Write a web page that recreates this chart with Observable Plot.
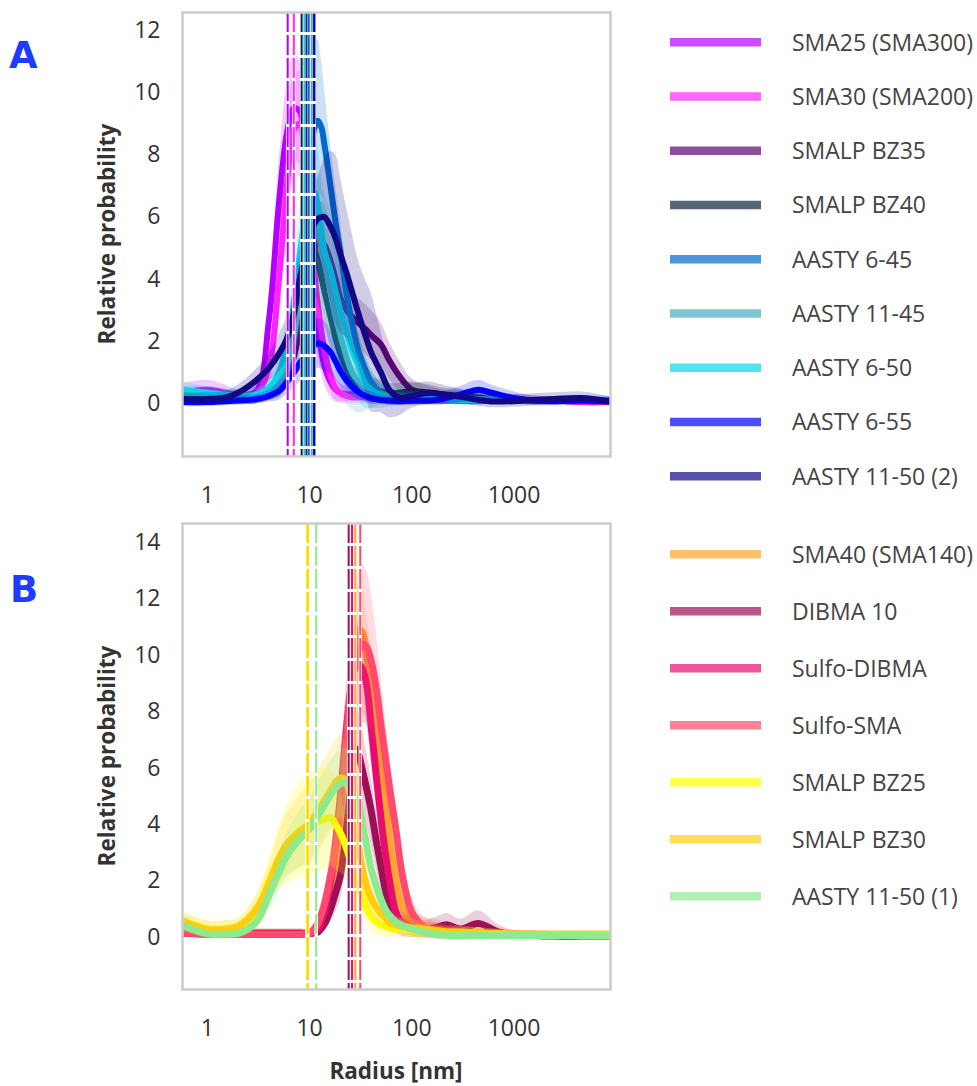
<!DOCTYPE html>
<html><head><meta charset="utf-8">
<script src="https://cdn.jsdelivr.net/npm/d3@7"></script>
<script src="https://cdn.jsdelivr.net/npm/@observablehq/plot@0.6"></script>
<style>
body{margin:0;background:#fff;font-family:"Open Sans",sans-serif;}
#fig{position:relative;width:977px;height:1086px;overflow:hidden;background:#fff;}
#fig > svg{position:absolute;}
</style></head><body><div id="fig"></div>
<script>
// ---------- Panel A data ----------
const gridA = [0.57,1,1.5,2,3,4,5,6,7,8,9,10,11,12,13,14,16,18,20,23,26,30,35,40,50,60,75,100,150,200,300,450,600,1000,1500,2500,4500,8700];
const namesA = ["SMA25 (SMA300)","SMA30 (SMA200)","SMALP BZ35","SMALP BZ40","AASTY 6-45","AASTY 11-45","AASTY 6-50","AASTY 6-55","AASTY 11-50 (2)"];
const colorsA = ["#b200ff","#ff24ff","#5e0372","#0e243d","#006ace","#4aabc2","#08d7ea","#0000ff","#130883"];
const peaksA = [6.1, 7.0, 9.3, 8.35, 9.8, 10.5, 8.9, 11.1, 11.1];
const sma25 = [0.35,0.45,0.35,0.25,0.4,2.7,6.4,8.7,9.5,9.4,7.6,5.2,3.5,2.4,1.7,1.2,0.7,0.45,0.35,0.3,0.3,0.3,0.28,0.25,0.2,0.15,0.15,0.1,0.1,0.1,0.1,0.1,0.1,0.1,0.1,0.1,0.05,0.05];
const sma25Sd = [0.3,0.3,0.25,0.2,0.3,0.8,1.3,1.6,1.7,1.7,1.5,1.2,1.0,0.8,0.7,0.6,0.5,0.4,0.3,0.25,0.2,0.2,0.2,0.2,0.15,0.15,0.15,0.1,0.1,0.1,0.1,0.1,0.1,0.1,0.1,0.1,0.1,0.1];
const sma30 = [0.3,0.3,0.25,0.2,0.3,1.2,4.0,7.0,8.8,9.0,7.8,6.0,4.4,3.2,2.35,1.7,0.9,0.5,0.33,0.25,0.2,0.2,0.2,0.15,0.15,0.1,0.1,0.1,0.1,0.1,0.1,0.1,0.1,0.1,0.1,0.1,0.05,0.05];
const sma30Sd = [0.25,0.25,0.2,0.2,0.3,0.7,1.3,1.6,1.7,1.7,1.6,1.4,1.2,1.0,0.9,0.7,0.5,0.4,0.3,0.25,0.2,0.2,0.2,0.15,0.15,0.15,0.15,0.15,0.1,0.1,0.1,0.1,0.1,0.1,0.1,0.1,0.1,0.1];
const bz35 = [0.2,0.2,0.2,0.2,0.2,0.3,0.5,0.9,1.5,2.4,3.4,4.3,4.9,5.2,5.2,5.1,4.6,4.0,3.4,3.0,2.8,2.6,2.4,2.2,1.9,1.4,0.9,0.45,0.3,0.25,0.2,0.15,0.15,0.15,0.1,0.1,0.1,0.1];
const bz35Sd = [0.2,0.2,0.2,0.2,0.2,0.2,0.3,0.4,0.6,0.8,1.0,1.2,1.3,1.3,1.3,1.3,1.2,1.1,1.0,0.9,0.9,0.8,0.8,0.8,0.7,0.6,0.5,0.35,0.25,0.2,0.2,0.2,0.15,0.15,0.15,0.1,0.1,0.1];
const bz40 = [0.2,0.2,0.2,0.2,0.2,0.3,0.6,1.2,2.2,3.5,4.6,5.1,5.0,4.6,4.1,3.6,2.8,2.1,1.6,1.1,0.8,0.6,0.5,0.45,0.4,0.35,0.35,0.4,0.35,0.3,0.25,0.2,0.15,0.15,0.1,0.1,0.1,0.1];
const bz40Sd = [0.2,0.2,0.2,0.2,0.2,0.2,0.3,0.5,0.8,1.1,1.3,1.4,1.4,1.3,1.2,1.1,0.9,0.8,0.7,0.6,0.5,0.45,0.4,0.4,0.35,0.3,0.3,0.3,0.25,0.2,0.2,0.15,0.15,0.1,0.1,0.1,0.1,0.1];
const a645 = [0.25,0.2,0.15,0.15,0.2,0.3,0.5,1.0,2.0,3.8,6.0,7.8,8.8,9.1,8.9,8.3,7.0,5.8,4.9,3.5,2.6,1.7,1.1,0.7,0.35,0.2,0.15,0.15,0.15,0.15,0.1,0.1,0.1,0.1,0.1,0.1,0.1,0.1];
const a645Sd = [0.2,0.2,0.15,0.15,0.2,0.2,0.3,0.5,0.9,1.4,1.9,2.4,2.8,2.6,2.2,1.8,1.4,1.2,1.0,0.8,0.7,0.6,0.5,0.4,0.3,0.2,0.2,0.15,0.15,0.15,0.1,0.1,0.1,0.1,0.1,0.1,0.1,0.1];
const a1145 = [0.3,0.25,0.2,0.2,0.2,0.3,0.6,1.2,2.2,3.5,4.6,5.3,5.6,5.5,5.1,4.6,3.6,2.8,2.2,1.5,1.0,0.7,0.45,0.35,0.3,0.25,0.2,0.2,0.2,0.15,0.15,0.15,0.15,0.1,0.1,0.1,0.1,0.1];
const a1145Sd = [0.2,0.2,0.2,0.2,0.2,0.2,0.3,0.5,0.8,1.1,1.4,1.6,1.8,1.9,1.9,1.9,1.9,1.8,1.7,1.5,1.2,1.0,0.7,0.5,0.35,0.3,0.25,0.2,0.2,0.15,0.15,0.15,0.1,0.1,0.1,0.1,0.1,0.1];
const a650 = [0.45,0.35,0.3,0.25,0.3,0.5,1.0,1.9,3.2,4.8,6.0,6.7,6.8,6.4,5.6,4.9,4.3,3.6,3.0,2.3,1.7,1.2,0.65,0.45,0.25,0.2,0.15,0.15,0.15,0.15,0.1,0.1,0.1,0.1,0.1,0.1,0.1,0.1];
const a650Sd = [0.25,0.2,0.2,0.2,0.2,0.3,0.5,0.8,1.1,1.4,1.6,1.8,1.9,1.9,1.9,1.9,1.9,1.9,1.8,1.6,1.4,1.1,0.8,0.6,0.4,0.3,0.2,0.2,0.15,0.15,0.15,0.15,0.1,0.1,0.1,0.1,0.1,0.1];
const a655 = [0.05,0.05,0.08,0.1,0.15,0.25,0.4,0.7,1.0,1.3,1.55,1.75,1.88,1.94,1.92,1.85,1.65,1.35,1.05,0.75,0.55,0.38,0.25,0.18,0.12,0.1,0.08,0.1,0.1,0.15,0.3,0.45,0.35,0.18,0.1,0.08,0.1,0.08];
const a655Sd = [0.15,0.15,0.15,0.15,0.15,0.2,0.3,0.4,0.5,0.6,0.7,0.8,0.8,0.8,0.8,0.8,0.7,0.6,0.5,0.4,0.3,0.25,0.2,0.2,0.15,0.15,0.15,0.15,0.15,0.2,0.25,0.3,0.25,0.2,0.15,0.15,0.15,0.15];
const a1150b = [0.15,0.15,0.2,0.35,0.75,1.15,1.6,2.1,2.9,4.0,4.8,5.4,5.75,5.95,6.0,6.0,5.7,5.3,4.8,4.2,3.6,2.9,2.2,1.65,1.0,0.45,0.2,0.25,0.35,0.3,0.22,0.12,0.07,0.08,0.12,0.15,0.18,0.07];
const a1150bSd = [0.2,0.2,0.2,0.25,0.35,0.45,0.6,0.7,0.8,0.9,1.0,1.1,1.2,1.3,1.6,1.9,2.4,2.7,2.5,2.1,1.9,1.7,1.8,1.9,1.3,0.9,0.6,0.4,0.35,0.3,0.25,0.2,0.2,0.2,0.2,0.2,0.2,0.15];
const valsA = [sma25, sma30, bz35, bz40, a645, a1145, a650, a655, a1150b];
const sdsA = [sma25Sd, sma30Sd, bz35Sd, bz40Sd, a645Sd, a1145Sd, a650Sd, a655Sd, a1150bSd];
const yTicksA = [0,2,4,6,8,10,12];

// ---------- Panel B data ----------
const gridB = [0.57,1,1.5,2,3,4,5,6,7,8,10,12,14,16,18,20,22,24,26,28,30,33,36,40,45,50,55,60,70,80,100,130,170,220,300,450,700,1000,1500,2500,4500,8700];
const namesB = ["SMA40 (SMA140)","DIBMA 10","Sulfo-DIBMA","Sulfo-SMA","SMALP BZ25","SMALP BZ30","AASTY 11-50 (1)"];
const colorsB = ["#ffa52a","#9e1055","#e70c6d","#ff4a6d","#ffff00","#ffce0c","#8eea8e"];
const peaksB = [28.0, 24.1, 26.0, 31.3, 9.4, 9.6, 11.6];
const sma40 = [0.2,0.15,0.15,0.15,0.15,0.15,0.15,0.15,0.15,0.15,0.15,0.3,0.8,1.6,2.8,4.3,6.0,7.8,9.3,10.4,10.9,10.8,10.0,9.1,7.6,6.1,4.8,3.6,2.0,1.1,0.5,0.35,0.3,0.2,0.15,0.15,0.12,0.1,0.1,0.08,0.08,0.08];
const sma40Sd = [0.15,0.15,0.15,0.15,0.15,0.15,0.15,0.15,0.15,0.15,0.15,0.2,0.4,0.6,0.8,1.0,1.2,1.3,1.4,1.5,1.5,1.5,1.4,1.3,1.2,1.1,1.0,0.9,0.7,0.5,0.4,0.4,0.35,0.3,0.25,0.2,0.2,0.15,0.15,0.15,0.15,0.15];
const dibma = [0.15,0.15,0.15,0.15,0.15,0.15,0.15,0.15,0.15,0.15,0.15,0.2,0.5,1.0,1.6,2.2,3.3,4.6,5.8,6.7,6.5,5.9,5.3,4.5,3.4,2.5,1.7,1.2,0.6,0.4,0.3,0.3,0.35,0.45,0.3,0.5,0.2,0.1,0.08,0.06,0.06,0.06];
const dibmaSd = [0.15,0.15,0.15,0.15,0.15,0.15,0.15,0.15,0.15,0.15,0.15,0.2,0.3,0.5,0.7,0.9,1.1,1.3,1.4,1.5,1.5,1.4,1.3,1.2,1.0,0.8,0.6,0.5,0.4,0.35,0.3,0.3,0.35,0.4,0.35,0.45,0.25,0.15,0.15,0.15,0.15,0.15];
const sdibma = [0.15,0.12,0.12,0.12,0.12,0.12,0.12,0.12,0.12,0.12,0.15,0.3,0.9,2.0,3.4,5.0,6.7,8.1,9.1,9.6,9.7,9.5,9.0,7.5,5.7,4.2,3.0,2.1,0.9,0.55,0.4,0.3,0.25,0.2,0.15,0.12,0.1,0.1,0.08,0.06,0.06,0.06];
const sdibmaSd = [0.15,0.15,0.15,0.15,0.15,0.15,0.15,0.15,0.15,0.15,0.15,0.2,0.4,0.6,0.9,1.1,1.3,1.4,1.5,1.5,1.5,1.5,1.4,1.3,1.1,0.9,0.7,0.6,0.4,0.35,0.3,0.25,0.25,0.2,0.2,0.15,0.15,0.15,0.15,0.15,0.15,0.15];
const ssma = [0.15,0.12,0.12,0.12,0.12,0.12,0.12,0.12,0.12,0.12,0.15,0.5,1.2,2.2,3.2,4.5,6.3,7.9,9.0,9.7,10.1,10.4,10.3,9.8,8.8,7.5,6.4,5.4,3.8,2.3,0.9,0.4,0.25,0.2,0.2,0.15,0.12,0.1,0.1,0.08,0.08,0.08];
const ssmaSd = [0.15,0.15,0.15,0.15,0.15,0.15,0.15,0.15,0.15,0.15,0.15,0.3,0.5,0.8,1.1,1.4,1.7,2.0,2.3,2.5,2.7,2.8,2.7,2.4,2.0,1.7,1.4,1.2,0.9,0.7,0.5,0.35,0.3,0.25,0.2,0.15,0.15,0.15,0.15,0.15,0.15,0.15];
const bz25 = [0.55,0.3,0.3,0.35,0.95,2.0,2.8,3.3,3.6,3.8,4.0,4.1,4.2,4.25,4.0,3.7,3.35,2.95,2.55,2.15,1.85,1.4,1.05,0.75,0.55,0.45,0.4,0.35,0.3,0.3,0.25,0.2,0.2,0.15,0.15,0.15,0.12,0.1,0.1,0.1,0.1,0.1];
const bz25Sd = [0.3,0.3,0.3,0.3,0.5,0.8,1.1,1.4,1.6,1.7,1.8,1.8,1.8,1.7,1.6,1.4,1.2,1.0,0.9,0.8,0.7,0.6,0.5,0.5,0.45,0.4,0.4,0.35,0.3,0.3,0.3,0.25,0.2,0.2,0.2,0.2,0.15,0.15,0.15,0.15,0.15,0.15];
const bz30 = [0.6,0.3,0.3,0.4,1.0,1.9,2.8,3.3,3.55,3.75,4.05,4.45,4.85,5.2,5.5,5.65,5.6,5.3,4.8,4.0,3.3,2.4,1.85,1.4,1.05,0.85,0.7,0.55,0.45,0.4,0.35,0.3,0.25,0.2,0.2,0.15,0.15,0.12,0.1,0.1,0.1,0.1];
const bz30Sd = [0.3,0.3,0.3,0.3,0.5,0.7,0.9,1.1,1.2,1.3,1.4,1.5,1.5,1.5,1.5,1.5,1.4,1.3,1.2,1.0,0.9,0.7,0.6,0.5,0.45,0.4,0.4,0.35,0.3,0.3,0.3,0.25,0.2,0.2,0.2,0.2,0.15,0.15,0.15,0.15,0.15,0.15];
const a1150a = [0.43,0.13,0.12,0.15,0.55,1.5,2.3,2.9,3.25,3.5,3.85,4.3,4.7,5.05,5.3,5.45,5.5,5.5,5.45,5.15,4.8,4.0,3.3,2.45,1.8,1.35,1.0,0.8,0.55,0.43,0.3,0.2,0.12,0.08,0.07,0.07,0.07,0.07,0.07,0.07,0.07,0.07];
const a1150aSd = [0.2,0.15,0.15,0.15,0.3,0.5,0.7,0.8,0.9,1.0,1.1,1.2,1.2,1.2,1.2,1.2,1.2,1.1,1.0,0.9,0.8,0.7,0.6,0.5,0.4,0.35,0.3,0.25,0.2,0.2,0.15,0.15,0.1,0.1,0.1,0.1,0.1,0.1,0.1,0.1,0.1,0.1];
const valsB = [sma40, dibma, sdibma, ssma, bz25, bz30, a1150a];
const sdsB = [sma40Sd, dibmaSd, sdibmaSd, ssmaSd, bz25Sd, bz30Sd, a1150aSd];
const yTicksB = [0,2,4,6,8,10,12,14];
const xTicks = [1,10,100,1000];

function panel(grid, colors, vals, sds, peaks, yDomain, yTicks, height, marginTop, marginBottom, lw) {
  const marks = [];
  colors.forEach((c, i) => {
    const rows = grid.map((r, j) => ({r, y: vals[i][j], lo: vals[i][j] - sds[i][j], hi: vals[i][j] + sds[i][j]}));
    marks.push(Plot.areaY(rows, {x: "r", y1: "lo", y2: "hi", fill: c, fillOpacity: 0.2, curve: "catmull-rom", clip: true}));
    marks.push(Plot.line(rows, {x: "r", y: "y", stroke: c, strokeWidth: lw, curve: "catmull-rom", clip: true}));
  });
  peaks.forEach((p) => marks.push(Plot.ruleX([p], {stroke: "white", strokeWidth: 3.5})));
  peaks.forEach((p, i) => marks.push(Plot.ruleX([p], {stroke: colors[i], strokeWidth: 2, strokeDasharray: "20,3"})));
  marks.push(Plot.axisX({ticks: xTicks, tickFormat: d => String(d), tickSize: 0, tickPadding: 30, label: null}));
  marks.push(Plot.axisY({ticks: yTicks, tickSize: 0, tickPadding: 22, label: null}));
  marks.push(Plot.frame({stroke: "#cccccc", strokeWidth: 2.5}));
  return Plot.plot({
    width: 640, height, marginLeft: 182, marginRight: 30, marginTop, marginBottom,
    x: {type: "log", domain: [0.57, 8800]},
    y: {domain: yDomain},
    style: {fontFamily: "Open Sans", fontSize: "23px", color: "#333", background: "transparent", overflow: "visible"},
    marks
  });
}

const fig = document.getElementById("fig");
const pA = panel(gridA, colorsA, valsA, sdsA, peaksA, [-1.7, 12.58], yTicksA, 510, 12, 54, 6);
pA.style.left = "0px"; pA.style.top = "0px";
fig.appendChild(pA);
const pB = panel(gridB, colorsB, valsB, sdsB, peaksB, [-1.84, 14.67], yTicksB, 570, 13, 91, 7);
pB.style.left = "0px"; pB.style.top = "510px";
fig.appendChild(pB);

// ---------- overlay: titles, panel letters, legends ----------
const ns = "http://www.w3.org/2000/svg";
const ov = document.createElementNS(ns, "svg");
ov.setAttribute("width", 977); ov.setAttribute("height", 1086);
ov.style.left = "0px"; ov.style.top = "0px"; ov.style.pointerEvents = "none";
fig.appendChild(ov);
function txt(s, x, y, attrs) {
  const t = document.createElementNS(ns, "text");
  t.textContent = s;
  t.setAttribute("x", x); t.setAttribute("y", y);
  for (const k in attrs) t.setAttribute(k, attrs[k]);
  ov.appendChild(t);
  return t;
}
const letter = {"font-family": "DejaVu Sans", "font-weight": "bold", "font-size": 37, fill: "#1d3cfb"};
txt("A", 9, 68, letter);
txt("B", 10, 602, letter);
const ttl = {"font-family": "Open Sans", "font-weight": "bold", "font-size": 22.5, fill: "#333", "text-anchor": "middle"};
txt("Relative probability", 0, 0, Object.assign({transform: "translate(115,234) rotate(-90)"}, ttl));
txt("Relative probability", 0, 0, Object.assign({transform: "translate(115,756) rotate(-90)"}, ttl));
txt("Radius [nm]", 396, 1079, ttl);

function legend(names, colors, y0, step) {
  names.forEach((n, i) => {
    const y = y0 + i * step;
    const l = document.createElementNS(ns, "line");
    l.setAttribute("x1", 670); l.setAttribute("x2", 761);
    l.setAttribute("y1", y); l.setAttribute("y2", y);
    l.setAttribute("stroke", colors[i]); l.setAttribute("stroke-opacity", 0.7);
    l.setAttribute("stroke-width", 8.5);
    ov.appendChild(l);
    txt(n, 792, y + 8.3, {"font-family": "Open Sans", "font-size": 23, fill: "#444"});
  });
}
legend(namesA, colorsA, 42.3, 54.25);
legend(namesB, colorsB, 554.3, 57);
</script></body></html>
